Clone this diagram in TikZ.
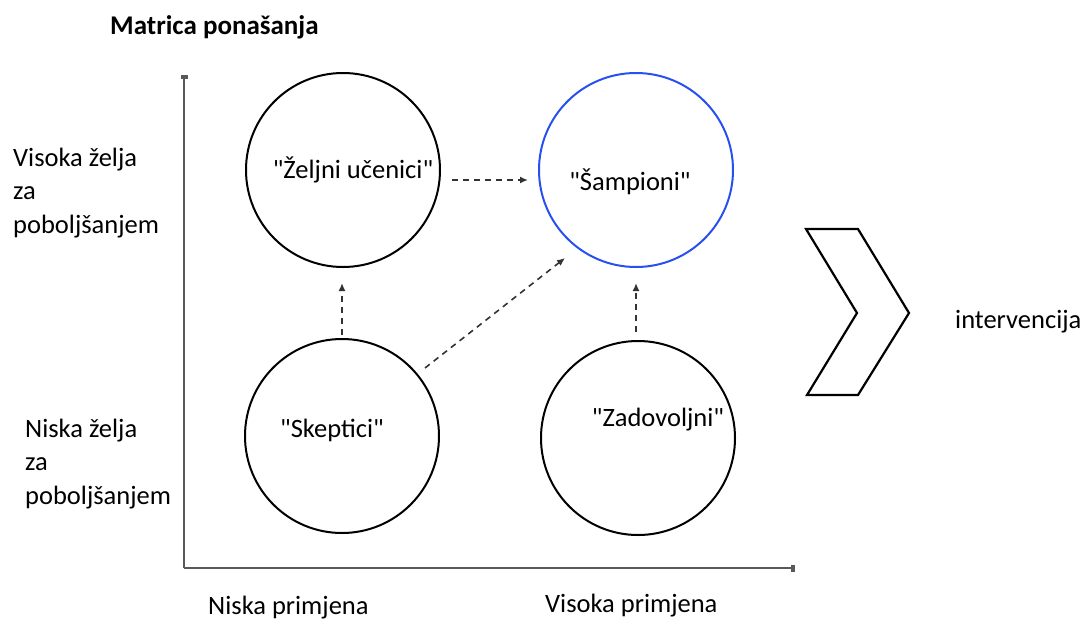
\documentclass[tikz,border=0pt]{standalone}
\usepackage{fontspec}
\setmainfont{Carlito}
\usetikzlibrary{arrows.meta}
\definecolor{champblue}{RGB}{40,80,240}
\tikzset{
  circ/.style={circle, draw=black, line width=2pt, minimum size=194pt, inner sep=0pt},
  lbl/.style={font=\fontsize{26.5}{33.5}\selectfont, inner sep=0pt},
  dasharrow/.style={draw=black!80, line width=1.6pt, dash pattern=on 6pt off 5pt, -{Latex[length=8pt,width=7pt]}},
  axis/.style={draw=black!65, line width=2pt, -{Rectangle[length=4pt,width=7pt,fill=black]}}
}
\begin{document}
\begin{tikzpicture}[x=1pt,y=-1pt]
\useasboundingbox (0,0) rectangle (1085,622);
% title
\node[anchor=west, font=\fontsize{27}{30}\selectfont\bfseries, inner sep=0pt] (title) at (110,27) {Matrica ponašanja};
% axes
\coordinate (origin) at (184,568);
\coordinate (ytop) at (184,75);
\coordinate (xend) at (795,568);
\draw[axis] (origin) -- (ytop);
\draw[axis] (origin) -- (xend);
% circles
\node[circ] (ucenici) at (343,170) {};
\node[circ, draw=champblue] (sampioni) at (636,170) {};
\node[circ] (skeptici) at (342,436) {};
\node[circ] (zadovoljni) at (638,438) {};
% circle texts
\node[lbl] (tU) at (353,170) {\textquotedbl Željni učenici\textquotedbl};
\node[lbl] (tS) at (630,182) {\textquotedbl Šampioni\textquotedbl};
\node[lbl] (tK) at (332,430) {\textquotedbl Skeptici\textquotedbl};
\node[lbl] (tZ) at (658,420) {\textquotedbl Zadovoljni\textquotedbl};
% dashed arrows
\coordinate (a1s) at (452,180); \coordinate (a1e) at (528,180);
\draw[dasharrow] (a1s) -- (a1e);
\coordinate (a2s) at (342,335); \coordinate (a2e) at (342,283);
\draw[dasharrow] (a2s) -- (a2e);
\coordinate (a3s) at (636,332); \coordinate (a3e) at (636,283);
\draw[dasharrow] (a3s) -- (a3e);
\coordinate (a4s) at (425,368); \coordinate (a4e) at (565,258);
\draw[dasharrow] (a4s) -- (a4e);
% left labels
\node[lbl, anchor=west, align=left] (hiDesire) at (13,193) {Visoka želja\\za\\poboljšanjem};
\node[lbl, anchor=west, align=left] (loDesire) at (25,464) {Niska želja\\za\\poboljšanjem};
% bottom labels
\node[lbl, anchor=west] (loUse) at (208,608) {Niska primjena};
\node[lbl, anchor=west] (hiUse) at (545,606) {Visoka primjena};
% chevron
\draw[line width=2.2pt, line join=miter] (806,229) -- (858,229) -- (909,313) -- (858,395) -- (807,395) -- (857,313) -- cycle;
\node[lbl, anchor=west] (interv) at (955,322) {intervencija};
\end{tikzpicture}
\end{document}
